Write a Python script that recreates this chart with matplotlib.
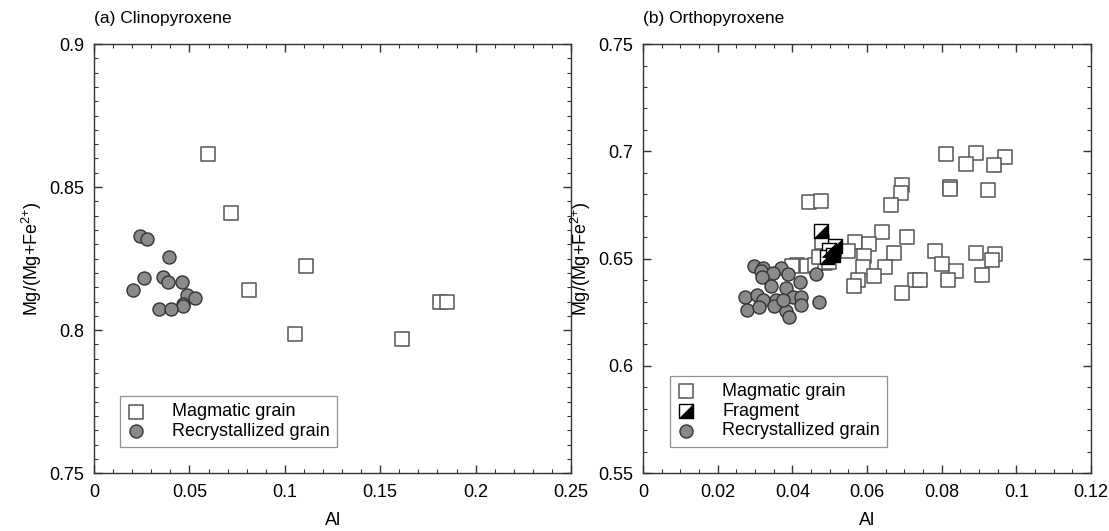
import numpy as np
import matplotlib
matplotlib.use('Agg')
from matplotlib import pyplot as plt
from matplotlib.path import Path
from matplotlib.ticker import MultipleLocator

plt.rcParams['font.family'] = ['Liberation Sans', 'DejaVu Sans']
plt.rcParams['mathtext.fontset'] = 'custom'
plt.rcParams['mathtext.rm'] = 'Liberation Sans'
plt.rcParams['font.size'] = 13

########
# DATA #
########

# (a) Clinopyroxene
cpx_mag_al = [0.0596, 0.0720, 0.0811, 0.1110, 0.1053, 0.1614, 0.1813, 0.1849]
cpx_mag_mg = [0.8617, 0.8409, 0.8141, 0.8223, 0.7987, 0.7969, 0.8097, 0.8100]

cpx_rec_al = [0.0241, 0.0279, 0.0393, 0.0262, 0.0206, 0.0363, 0.0386,
              0.0461, 0.0486, 0.0531, 0.0465, 0.0468, 0.0342, 0.0403]
cpx_rec_mg = [0.8328, 0.8317, 0.8254, 0.8183, 0.8139, 0.8186, 0.8168,
              0.8168, 0.8121, 0.8113, 0.8093, 0.8084, 0.8073, 0.8073]

# (b) Orthopyroxene
opx_mag_al = [0.0811, 0.0891, 0.0866, 0.0970, 0.0939, 0.0821, 0.0821,
              0.0924, 0.0693, 0.0690, 0.0663, 0.0444, 0.0476, 0.0640,
              0.0706, 0.0569, 0.0606, 0.0549, 0.0593, 0.0671, 0.0589,
              0.0648, 0.0620, 0.0575, 0.0566, 0.0728, 0.0743, 0.0695,
              0.0783, 0.0802, 0.0837, 0.0817, 0.0892, 0.0943, 0.0936,
              0.0908, 0.0413, 0.0400, 0.0440, 0.0462, 0.0487, 0.0471,
              0.0480, 0.0506, 0.0498]
opx_mag_mg = [0.6988, 0.6990, 0.6943, 0.6973, 0.6934, 0.6835, 0.6826,
              0.6822, 0.6844, 0.6806, 0.6748, 0.6764, 0.6770, 0.6622,
              0.6602, 0.6576, 0.6568, 0.6537, 0.6514, 0.6527, 0.6463,
              0.6463, 0.6420, 0.6401, 0.6371, 0.6398, 0.6398, 0.6339,
              0.6534, 0.6475, 0.6440, 0.6398, 0.6527, 0.6522, 0.6492,
              0.6424, 0.6472, 0.6467, 0.6467, 0.6472, 0.6478, 0.6506,
              0.6576, 0.6537, 0.6483]

opx_frag_al = [0.0477, 0.0514, 0.0498, 0.0492, 0.0508]
opx_frag_mg = [0.6630, 0.6560, 0.6542, 0.6509, 0.6519]

opx_rec_al = [0.0298, 0.0322, 0.0316, 0.0369, 0.0349, 0.0320, 0.0389,
              0.0420, 0.0464, 0.0344, 0.0382, 0.0273, 0.0304, 0.0322,
              0.0356, 0.0402, 0.0423, 0.0424, 0.0471, 0.0278, 0.0311,
              0.0351, 0.0382, 0.0391, 0.0375]
opx_rec_mg = [0.6464, 0.6457, 0.6444, 0.6457, 0.6433, 0.6416, 0.6429,
              0.6390, 0.6429, 0.6374, 0.6362, 0.6322, 0.6329, 0.6308,
              0.6305, 0.6320, 0.6320, 0.6286, 0.6297, 0.6261, 0.6273,
              0.6281, 0.6255, 0.6227, 0.6305]

##########
# STYLES #
##########

ms = 88
sq_kw = dict(marker='s', s=ms, facecolor='white', edgecolor='#555555',
             linewidth=1.1)
ci_kw = dict(marker='o', s=ms, facecolor='#8a8a8a', edgecolor='#333333',
             linewidth=1.0)
# lower-right half of the square, filled black
half = Path([(-0.5, -0.5), (0.5, -0.5), (0.5, 0.5), (-0.5, -0.5)],
            [Path.MOVETO, Path.LINETO, Path.LINETO, Path.CLOSEPOLY])
fr_sq_kw = dict(marker='s', s=ms, facecolor='white', edgecolor='black',
                linewidth=1.0)
fr_tri_kw = dict(marker=half, s=ms, facecolor='black', edgecolor='black',
                 linewidth=0.6)

ylab = r'Mg/(Mg+Fe$^{2{+}}$)'


def style_axes(ax):
    ax.tick_params(which='both', direction='in', top=True, right=True,
                   labelsize=13, colors='#333333', labelcolor='black')
    ax.tick_params(axis='y', which='major', pad=7)
    ax.tick_params(axis='x', which='major', pad=8)
    ax.tick_params(which='major', length=6, width=1)
    ax.tick_params(which='minor', length=3, width=0.8)
    for sp in ax.spines.values():
        sp.set_linewidth(1.0)
        sp.set_color('#333333')


fig = plt.figure(figsize=(11.09, 5.31), dpi=100)

#############
# PANEL (a) #
#############

ax1 = fig.add_axes([0.0848, 0.109, 0.4301, 0.808])
ax1.scatter(cpx_mag_al, cpx_mag_mg, label='Magmatic grain', zorder=3, **sq_kw)
ax1.scatter(cpx_rec_al, cpx_rec_mg, label='Recrystallized grain', zorder=3,
            **ci_kw)
ax1.set_xlim(0, 0.25)
ax1.set_ylim(0.75, 0.9)
ax1.set_xticks([0, 0.05, 0.1, 0.15, 0.2, 0.25])
ax1.set_xticklabels(['0', '0.05', '0.1', '0.15', '0.2', '0.25'])
ax1.set_yticks([0.75, 0.8, 0.85, 0.9])
ax1.set_yticklabels(['0.75', '0.8', '0.85', '0.9'])
ax1.xaxis.set_minor_locator(MultipleLocator(0.01))
ax1.yaxis.set_minor_locator(MultipleLocator(0.005))
style_axes(ax1)
ax1.set_xlabel('Al', fontsize=13, labelpad=8)
ax1.set_ylabel(ylab, fontsize=13, labelpad=4)
ax1.set_title('(a) Clinopyroxene', loc='left', fontsize=12.5, pad=15)
leg1 = ax1.legend(loc='lower left', bbox_to_anchor=(0.054, 0.06),
                  frameon=True, fancybox=False, edgecolor='#777777',
                  handlelength=1.0, handletextpad=1.5, borderpad=0.4,
                  labelspacing=0.15, fontsize=13, borderaxespad=0)
leg1.get_frame().set_linewidth(0.9)

#############
# PANEL (b) #
#############

ax2 = fig.add_axes([0.5798, 0.109, 0.4040, 0.808])
ax2.scatter(opx_mag_al, opx_mag_mg, zorder=3, **sq_kw)
ax2.scatter(opx_rec_al, opx_rec_mg, zorder=3, **ci_kw)
ax2.scatter(opx_frag_al, opx_frag_mg, zorder=4, **fr_sq_kw)
ax2.scatter(opx_frag_al, opx_frag_mg, zorder=5, **fr_tri_kw)
ax2.set_xlim(0, 0.12)
ax2.set_ylim(0.55, 0.75)
ax2.set_xticks([0, 0.02, 0.04, 0.06, 0.08, 0.1, 0.12])
ax2.set_xticklabels(['0', '0.02', '0.04', '0.06', '0.08', '0.1', '0.12'])
ax2.set_yticks([0.55, 0.6, 0.65, 0.7, 0.75])
ax2.set_yticklabels(['0.55', '0.6', '0.65', '0.7', '0.75'])
ax2.xaxis.set_minor_locator(MultipleLocator(0.005))
ax2.yaxis.set_minor_locator(MultipleLocator(0.01))
style_axes(ax2)
ax2.set_xlabel('Al', fontsize=13, labelpad=8)
ax2.set_ylabel(ylab, fontsize=13, labelpad=4)
ax2.set_title('(b) Orthopyroxene', loc='left', fontsize=12.5, pad=15)

# legend handles built from the same marker styles
h_mag = ax2.scatter([], [], **sq_kw)
h_fr_sq = ax2.scatter([], [], **fr_sq_kw)
h_fr_tri = ax2.scatter([], [], **fr_tri_kw)
h_rec = ax2.scatter([], [], **ci_kw)
leg2 = ax2.legend([h_mag, (h_fr_sq, h_fr_tri), h_rec],
                  ['Magmatic grain', 'Fragment', 'Recrystallized grain'],
                  loc='lower left', bbox_to_anchor=(0.06, 0.062),
                  frameon=True, fancybox=False, edgecolor='#777777',
                  handlelength=1.0, handletextpad=1.5, borderpad=0.4,
                  labelspacing=0.15, fontsize=13, borderaxespad=0,
                  scatterpoints=1)
leg2.get_frame().set_linewidth(0.9)

plt.savefig('out.png', dpi=100)
plt.close()
